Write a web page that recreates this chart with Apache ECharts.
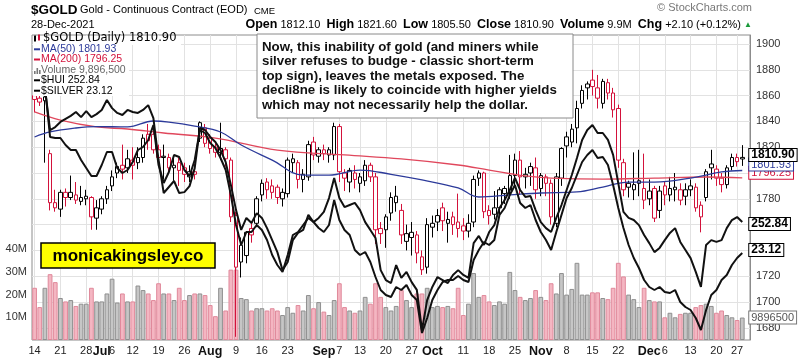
<!DOCTYPE html>
<html><head><meta charset="utf-8">
<script src="https://cdn.jsdelivr.net/npm/echarts@6/dist/echarts.min.js"></script>
<style>html,body{margin:0;padding:0;background:#fff}#c{width:803px;height:358px}</style>
</head><body><div id="c"></div>
<script>
// ---------- DATA ----------
const dates = [
'06-14','06-15','06-16','06-17','06-18','06-21','06-22','06-23','06-24','06-25','06-28','06-29','06-30',
'07-01','07-02','07-06','07-07','07-08','07-09','07-12','07-13','07-14','07-15','07-16','07-19','07-20','07-21','07-22','07-23','07-26','07-27','07-28','07-29','07-30',
'08-02','08-03','08-04','08-05','08-06','08-09','08-10','08-11','08-12','08-13','08-16','08-17','08-18','08-19','08-20','08-23','08-24','08-25','08-26','08-27','08-30','08-31',
'09-01','09-02','09-03','09-07','09-08','09-09','09-10','09-13','09-14','09-15','09-16','09-17','09-20','09-21','09-22','09-23','09-24','09-27','09-28','09-29','09-30',
'10-01','10-04','10-05','10-06','10-07','10-08','10-11','10-12','10-13','10-14','10-15','10-18','10-19','10-20','10-21','10-22','10-25','10-26','10-27','10-28','10-29',
'11-01','11-02','11-03','11-04','11-05','11-08','11-09','11-10','11-11','11-12','11-15','11-16','11-17','11-18','11-19','11-22','11-23','11-24','11-26','11-29','11-30',
'12-01','12-02','12-03','12-06','12-07','12-08','12-09','12-10','12-13','12-14','12-15','12-16','12-17','12-20','12-21','12-22','12-23','12-27','12-28'];

const opens = [1860,1858,1856,1815,1777,1772,1785,1781,1783,1778,1780,1781,1765,
1772,1780,1790,1800,1806,1804,1810,1808,1812,1830,1830,1818,1812,1812,1804,1808,1804,1797,1801,1827,1835,
1827,1820,1816,1818,1810,1767,1731,1736,1757,1761,1783,1793,1790,1789,1780,1784,1808,1808,1795,1797,1824,1813,
1818,1814,1814,1836,1800,1793,1800,1792,1794,1806,1797,1757,1756,1769,1777,1771,1747,1750,1752,1735,1727,
1758,1762,1773,1761,1766,1762,1759,1755,1762,1796,1800,1771,1768,1773,1784,1785,1798,1810,1797,1800,1804,
1788,1797,1792,1761,1796,1821,1824,1835,1854,1866,1872,1866,1854,1870,1862,1850,1808,1792,1787,1794,1788,
1780,1788,1771,1790,1783,1787,1787,1782,1787,1789,1775,1781,1804,1803,1796,1791,1805,1812,1812.1];
const highs = [1862,1861,1861,1818,1787,1787,1788,1798,1793,1790,1787,1782,1779,
1782,1790,1802,1808,1822,1818,1820,1820,1830,1838,1833,1822,1822,1815,1814,1812,1808,1806,1807,1840,1838,
1830,1823,1839,1820,1812,1770,1750,1755,1762,1782,1795,1796,1795,1791,1788,1812,1815,1810,1803,1825,1828,1820,
1822,1820,1839,1838,1803,1804,1806,1800,1810,1808,1800,1762,1768,1785,1790,1776,1760,1762,1755,1740,1765,
1767,1772,1777,1770,1770,1784,1765,1768,1798,1802,1801,1775,1786,1789,1790,1814,1815,1817,1804,1808,1812,
1800,1799,1795,1800,1820,1832,1838,1856,1868,1871,1880,1876,1873,1873,1866,1853,1811,1794,1816,1818,1815,
1795,1790,1790,1793,1797,1800,1792,1792,1795,1792,1778,1803,1818,1806,1800,1806,1815,1815,1821.6];
const lows = [1847,1852,1808,1771,1770,1766,1774,1779,1776,1775,1775,1756,1756,
1768,1776,1786,1796,1795,1800,1795,1803,1808,1818,1815,1808,1795,1800,1794,1790,1793,1793,1795,1824,1820,
1815,1812,1810,1805,1762,1673,1719,1730,1746,1758,1778,1780,1780,1776,1774,1781,1800,1788,1785,1794,1810,1808,
1810,1808,1810,1793,1786,1785,1788,1785,1790,1793,1745,1745,1742,1763,1770,1745,1740,1736,1730,1721,1722,
1750,1755,1755,1746,1752,1750,1748,1750,1758,1790,1765,1760,1764,1768,1776,1780,1790,1783,1788,1790,1780,
1782,1782,1760,1758,1790,1812,1820,1823,1850,1857,1860,1850,1850,1857,1843,1804,1782,1781,1779,1782,1772,
1775,1762,1765,1775,1778,1778,1775,1775,1782,1770,1754,1778,1795,1790,1785,1788,1802,1805,1805.5];
const closes = [1857,1855,1859,1777,1773,1785,1781,1785,1779,1781,1782,1766,1773,
1780,1787,1797,1805,1803,1811,1806,1812,1827,1825,1818,1812,1813,1804,1806,1802,1799,1801,1799,1839,1823,
1819,1816,1819,1811,1766,1727,1744,1754,1752,1780,1792,1787,1785,1781,1785,1810,1811,1795,1799,1822,1814,1818,
1815,1818,1836,1801,1796,1802,1795,1797,1806,1797,1756,1753,1766,1781,1782,1752,1753,1754,1738,1725,1760,
1761,1767,1763,1764,1760,1757,1755,1761,1795,1800,1770,1767,1773,1787,1788,1798,1810,1797,1799,1805,1787,
1798,1792,1766,1797,1819,1828,1834,1850,1864,1869,1867,1858,1871,1862,1849,1810,1787,1789,1791,1792,1779,
1786,1765,1786,1783,1788,1789,1779,1787,1790,1773,1766,1801,1807,1796,1791,1804,1812,1808.8,1810.9];

// volume in millions of contracts
const volumes = [23,14.5,23,29,25.5,18.5,17,17.6,15,16,16,23,17,
17,20.5,27,16.5,20.5,17,17,24,22,20.5,17.6,25,20.5,20.5,17.6,23,17.6,19.8,20.5,20.5,19.8,
15.4,10.5,23,13,31,31,18.5,18,13,14,14,13,14,13,11,14.5,12,15.4,13,19.8,14,16.7,
12.5,11,17.6,25,14.5,13,12,13,19,16,25,19,14.5,13,15,22,17.6,14.5,20.5,20.5,23,
14.5,15,14.5,15,14,23,11,16,29.5,19,19.8,17,15.4,17,16,30,22,19,17.6,18.5,22,
19,17.6,25,20.5,29.5,20,22.5,34,20,20,21,21,18.5,18,23,34,28,20,18,14.5,23,
17.6,17,17,10,12,10,11.5,12,12,14.5,15.4,16,15,12,13,11,10,8.8,9.8965];

// moving averages read at selected sessions: [session index, value]
const ma50 = [[0,1827.9],[3,1831.8],[8,1834.9],[12,1836.0],[18,1835.7],[23,1840.3],[26,1839.5],[31,1836.4],[36,1831.8],[40,1821.7],[46,1810.0],[52,1798.4],[57,1798.4],[63,1802.3],[69,1799.0],[75,1794.6],[82,1788.4],[86,1781.4],[92,1783.0],[98,1784.5],[105,1785.3],[110,1789.1],[115,1793.0],[120,1793.0],[127,1796.1],[133,1800.8],[137,1801.93]];
const ma200 = [[0,1847.3],[5,1841.0],[12,1835.7],[18,1834.1],[25,1831.0],[35,1827.1],[47,1817.8],[60,1814.0],[71,1810.9],[82,1806.2],[88,1802.3],[95,1797.7],[100,1796.1],[110,1795.3],[120,1796.1],[130,1796.9],[137,1796.25]];

const hui = [301.8,300.8,297.5,283.5,284.5,286.2,287.2,288.2,289.5,287.8,
289.8,287.8,288.8,290.2,293.5,290.8,289.2,288.5,290.2,289.5,
289.2,290.2,291.8,287.5,273.5,262.5,264.5,266.5,262.5,262.8,
264.8,270.8,284.2,283.5,281.2,279.5,276.8,272.8,265.2,256.8,
250.2,254.2,252.5,255.8,254.2,250.8,246.8,242.8,236.8,239.5,
246.8,249.2,250.2,255.2,252.8,254.2,256.2,260.8,267.5,260.8,
257.8,258.5,259.2,256.8,252.8,250.2,247.5,236.8,233.5,232.5,
238.5,234.2,236.2,232.8,230.2,216.8,226.8,231.2,234.5,233.5,
232.5,235.2,236.8,235.2,234.2,245.8,248.2,245.2,249.5,251.8,
257.5,260.2,263.5,267.5,263.5,261.2,261.5,256.8,252.8,250.8,
249.5,254.2,258.5,263.5,268.5,274.2,280.2,283.5,285.2,282.5,
282.5,280.2,275.2,265.8,256.2,254.2,253.5,251.8,248.5,245.8,
242.8,244.2,246.8,249.2,250.8,246.2,243.5,240.8,236.2,231.2,
245.2,246.8,246.2,246.8,250.8,253.5,254.5,252.84];
const silver = [26.74,26.70,26.46,25.44,25.42,25.42,25.28,25.18,25.18,24.98,
24.82,24.66,24.66,24.88,25.14,25.14,24.82,24.72,24.78,24.94,
25.18,25.24,25.38,25.68,24.88,24.52,24.74,25.08,25.04,24.78,
24.66,24.98,25.58,25.52,25.32,25.22,25.02,24.78,24.28,23.68,
23.28,23.54,23.54,23.68,23.58,23.38,23.08,22.88,22.74,23.08,
23.48,23.54,23.68,23.82,23.74,23.62,23.54,23.68,24.18,23.78,
23.58,23.48,23.18,23.08,23.14,22.94,22.64,22.38,22.28,22.24,
22.44,22.38,22.48,22.28,22.18,21.52,21.82,22.18,22.38,22.54,
22.58,22.58,22.66,22.58,22.54,22.98,23.18,23.34,23.28,23.38,
23.88,24.02,24.28,24.48,24.12,24.02,24.08,23.78,23.54,23.38,
23.18,23.54,23.88,24.22,24.42,24.68,24.94,25.08,25.18,25.02,
25.04,24.88,24.48,24.02,23.62,23.28,23.02,22.82,22.58,22.44,
22.38,22.44,22.34,22.32,22.38,22.14,22.04,21.98,21.82,21.58,
21.98,22.28,22.38,22.58,22.68,22.88,23.02,23.12];

const priceTicks = [1680,1700,1720,1740,1760,1780,1800,1820,1840,1860,1880,1900];
const volumeTicks = [10,20,30,40];
const labelDates = ['06-14','06-21','06-28','07-01','07-06','07-12','07-19','07-26','08-02','08-09','08-16','08-23','09-01','09-07','09-13','09-20','09-27','10-01','10-11','10-18','10-25','11-01','11-08','11-15','11-22','12-01','12-06','12-13','12-20','12-27'];
const monthLabels = {'07-01':'Jul','08-02':'Aug','09-01':'Sep','10-01':'Oct','11-01':'Nov','12-01':'Dec'};
const gridDates = ['06-14','06-21','06-28','07-06','07-12','07-19','07-26','08-02','08-09','08-16','08-23','08-30','09-07','09-13','09-20','09-27','10-04','10-11','10-18','10-25','11-01','11-08','11-15','11-22','11-29','12-06','12-13','12-20','12-27'];
const annotation = ['Now, this inability of gold (and miners while','silver refuses to budge - classic short-term','top sign), leaves the metals exposed. The','decli8ne is likely to coincide with higher yields','which may not necessarily help the dollar.'];

// ---------- BUILD ----------
const RED = '#d3123b';
const n = dates.length;
const last = n - 1;
const cats = dates.concat(['']);
const labelSet = new Set(labelDates);
const upDay = i => i > 0 && closes[i] >= closes[i - 1];

const candleData = dates.map((d, i) => {
  const c = upDay(i) ? '#000' : RED;
  return { value: [opens[i], closes[i], lows[i], highs[i]],
    itemStyle: { color: '#fff', color0: c, borderColor: c, borderColor0: c } };
});
const volData = volumes.map((v, i) => ({ value: v,
  itemStyle: upDay(i) ? { color: '#c6c6c6', borderColor: '#8f8f8f', borderWidth: 1 }
                      : { color: '#f4b6c2', borderColor: '#e0899b', borderWidth: 1 } }));

const F = 'Liberation Sans, Arial, sans-serif';
function endLab(text, border, bold, col, dy) {
  return { show: true, formatter: () => text, distance: 7, offset: [0, dy || 0], backgroundColor: '#fff',
    borderColor: border, borderWidth: 1, padding: [1, 2, 0, 2], fontFamily: F,
    fontSize: bold ? 12 : 11, fontWeight: bold ? 'bold' : 'normal', color: col || '#000', lineHeight: 11 };
}
const noHide = { hideOverlap: false };
const fmt2 = v => v.toFixed(2);
const lastMa50 = ma50[ma50.length - 1][1], lastMa200 = ma200[ma200.length - 1][1];
const volLast = Math.round(volumes[last] * 1e6);

const chart = echarts.init(document.getElementById('c'), null, { renderer: 'canvas' });

const legendRows = [
  { t: '$GOLD (Daily) ' + fmt2(closes[last]), c: '#000', icon: 'candle', y: 38.5 },
  { t: 'MA(50) ' + fmt2(lastMa50), c: '#2c3a9a', icon: 'dash', y: 49.3 },
  { t: 'MA(200) ' + fmt2(lastMa200), c: '#d3123b', icon: 'dash', y: 59.5 },
  { t: 'Volume ' + volLast.toLocaleString('en-US'), c: '#666', icon: 'vol', y: 70 },
  { t: '$HUI ' + fmt2(hui[last]), c: '#000', icon: 'dash', y: 80.3 },
  { t: '$SILVER ' + fmt2(silver[last]), c: '#000', icon: 'dash', y: 90.7 }
];
const graphics = [];
graphics.push({ type: 'rect', shape: { x: 33, y: 36, width: 148, height: 9 }, style: { fill: '#fff' }, z: 40 });
graphics.push({ type: 'rect', shape: { x: 33, y: 44, width: 96, height: 52 }, style: { fill: '#fff' }, z: 40 });
legendRows.forEach((r, k) => {
  const y = r.y;
  if (r.icon === 'dash') graphics.push({ type: 'line', z: 41, shape: { x1: 34, y1: y, x2: 40, y2: y }, style: { stroke: r.c, lineWidth: 2 } });
  if (r.icon === 'candle') {
    graphics.push({ type: 'rect', z: 41, shape: { x: 34, y: y - 3, width: 2, height: 6 }, style: { fill: '#000' } });
    graphics.push({ type: 'rect', z: 41, shape: { x: 38, y: y - 4, width: 2, height: 6 }, style: { fill: RED } });
  }
  if (r.icon === 'vol') {
    [3, 6, 4].forEach((h, j) => graphics.push({ type: 'rect', z: 41, shape: { x: 34 + j * 2.5, y: y + 4 - h, width: 1.6, height: h }, style: { fill: '#777' } }));
  }
  graphics.push({ type: 'text', z: 41, x: r.icon === 'candle' ? 43 : 41, y: y,
    style: { text: r.t, fill: r.c, font: k === 0 ? '11.5px DejaVu Sans' : '10.5px ' + F, verticalAlign: 'middle', textVerticalAlign: 'middle' } });
});
// header
graphics.push({ type: 'text', x: 31, y: 10, style: { text: '$GOLD', font: 'bold 13.5px ' + F, fill: '#000', verticalAlign: 'middle', textVerticalAlign: 'middle' } });
graphics.push({ type: 'text', x: 80, y: 10, style: { text: 'Gold - Continuous Contract (EOD)', font: '11px ' + F, fill: '#000', verticalAlign: 'middle', textVerticalAlign: 'middle' } });
graphics.push({ type: 'text', x: 254, y: 11, style: { text: 'CME', font: '9.5px ' + F, fill: '#000', verticalAlign: 'middle', textVerticalAlign: 'middle' } });
graphics.push({ type: 'text', x: 31, y: 25, style: { text: '28-Dec-2021', font: '11px ' + F, fill: '#000', verticalAlign: 'middle', textVerticalAlign: 'middle' } });
graphics.push({ type: 'text', x: 752, y: 8, style: { text: '\u00A9 StockCharts.com', font: '11px ' + F, fill: '#777', align: 'right', textAlign: 'right', verticalAlign: 'middle', textVerticalAlign: 'middle' } });
graphics.push({ type: 'text', x: 741, y: 25, style: {
  text: '{b|Open} 1812.10  {b|High} 1821.60  {b|Low} 1805.50  {b|Close} 1810.90  {b|Volume} 9.9M  {b|Chg} +2.10 (+0.12%)',
  font: '11px ' + F, fill: '#000', align: 'right', textAlign: 'right', verticalAlign: 'middle', textVerticalAlign: 'middle',
  rich: { b: { font: 'bold 12.5px ' + F, fill: '#000' } } } });
graphics.push({ type: 'text', x: 744, y: 25, style: { text: '\u25B2', font: '8px ' + F, fill: '#1a9a3a', verticalAlign: 'middle', textVerticalAlign: 'middle' } });
// annotation box
graphics.push({ type: 'rect', shape: { x: 257, y: 34, width: 316, height: 84 }, style: { fill: '#fff', stroke: '#8a8a8a', lineWidth: 1 }, z: 50 });
annotation.forEach((t, k) => graphics.push({ type: 'text', x: 262, y: 47 + k * 14.5, z: 51,
  style: { text: t, font: 'bold 13.3px ' + F, fill: '#111', verticalAlign: 'middle', textVerticalAlign: 'middle' } }));
// site tag
graphics.push({ type: 'rect', shape: { x: 41, y: 243, width: 174, height: 25 }, style: { fill: '#ffff00', stroke: '#000', lineWidth: 1.5 }, z: 50 });
graphics.push({ type: 'text', x: 128, y: 256, z: 51, style: { text: 'monicakingsley.co', font: 'bold 17px ' + F, fill: '#000', align: 'center', textAlign: 'center', verticalAlign: 'middle', textVerticalAlign: 'middle' } });

const option = {
  animation: false,
  backgroundColor: '#fff',
  grid: { left: 32, right: 53, top: 35, bottom: 18, show: true, borderColor: '#8c8c8c', borderWidth: 1, backgroundColor: 'transparent' },
  xAxis: {
    type: 'category', data: cats, boundaryGap: true,
    axisLine: { show: false }, axisTick: { show: false }, splitLine: { show: false },
    axisLabel: {
      interval: (i, v) => labelSet.has(v), margin: 5, color: '#222', fontFamily: F, fontSize: 11,
      formatter: v => monthLabels[v] ? '{m|' + monthLabels[v] + '}' : '{d|' + parseInt(v.slice(3), 10) + '}',
      rich: { m: { fontWeight: 'bold', fontSize: 12.5, fontFamily: F, color: '#111' }, d: { fontSize: 11, fontFamily: F, color: '#222' } }
    }
  },
  yAxis: [
    { type: 'value', position: 'right', min: 1670.54, max: 1906.98, scale: true,
      axisLine: { show: true, lineStyle: { color: '#8c8c8c' } },
      axisTick: { show: false, customValues: priceTicks },
      axisLabel: { customValues: priceTicks, formatter: v => String(v), color: '#333', fontFamily: F, fontSize: 11, margin: 6 },
      splitLine: { show: true, lineStyle: { color: '#e2e2e2', width: 1 } } },
    { type: 'value', position: 'left', min: 0, max: 134.36,
      axisLine: { show: false }, axisTick: { show: false, customValues: volumeTicks },
      axisLabel: { customValues: volumeTicks, formatter: v => v + 'M', color: '#333', fontFamily: F, fontSize: 11, margin: 5 },
      splitLine: { show: false } },
    { type: 'value', show: false, min: 213.51, max: 315.17, splitLine: { show: false } },
    { type: 'value', show: false, min: 21.38, max: 27.48, splitLine: { show: false } }
  ],
  series: [
    { type: 'bar', name: 'Volume', yAxisIndex: 1, data: volData, barCategoryGap: '8%', z: 1,
      markLine: { silent: true, symbol: 'none', z: 0, animation: false, label: { show: false },
        lineStyle: { color: '#e2e2e2', type: 'solid', width: 1 }, emphasis: { disabled: true },
        data: gridDates.map(d => ({ xAxis: d })) } },
    { type: 'candlestick', name: '$GOLD', yAxisIndex: 0, data: candleData, barWidth: 4, z: 3 },
    { type: 'line', name: 'MA(200)', yAxisIndex: 0, data: ma200, smooth: 0.4, showSymbol: false, z: 4,
      lineStyle: { color: '#e0475c', width: 1.3 }, itemStyle: { color: '#e0475c' }, labelLayout: noHide,
      endLabel: endLab(fmt2(lastMa200), '#d3123b', false, '#d3123b', -5) },
    { type: 'line', name: 'MA(50)', yAxisIndex: 0, data: ma50, smooth: 0.4, showSymbol: false, z: 4,
      lineStyle: { color: '#2c3a9a', width: 1.3 }, itemStyle: { color: '#2c3a9a' }, labelLayout: noHide,
      endLabel: endLab(fmt2(lastMa50), '#2c3a9a', false, '#2c3a9a', -6) },
    { type: 'line', name: '$HUI', yAxisIndex: 2, data: hui, showSymbol: false, z: 5,
      lineStyle: { color: '#111', width: 2 }, itemStyle: { color: '#111' }, labelLayout: noHide,
      endLabel: endLab(fmt2(hui[last]), '#000', true, '#000', 2) },
    { type: 'line', name: '$SILVER', yAxisIndex: 3, data: silver, showSymbol: false, z: 5,
      lineStyle: { color: '#111', width: 2 }, itemStyle: { color: '#111' }, labelLayout: noHide,
      endLabel: endLab(fmt2(silver[last]), '#000', true, '#000', -3) },
    { type: 'line', name: 'closeTag', yAxisIndex: 0, data: closes, showSymbol: false, z: 6,
      lineStyle: { opacity: 0 }, itemStyle: { opacity: 0 }, labelLayout: noHide,
      endLabel: endLab(fmt2(closes[last]), '#000', true, '#000', -4) },
    { type: 'line', name: 'volTag', yAxisIndex: 1, data: volumes, showSymbol: false, z: 6,
      lineStyle: { opacity: 0 }, itemStyle: { opacity: 0 }, labelLayout: noHide,
      endLabel: endLab(String(volLast), '#777', false, '#555') }
  ],
  graphic: { elements: graphics }
};
chart.setOption(option);
</script>
</body></html>
